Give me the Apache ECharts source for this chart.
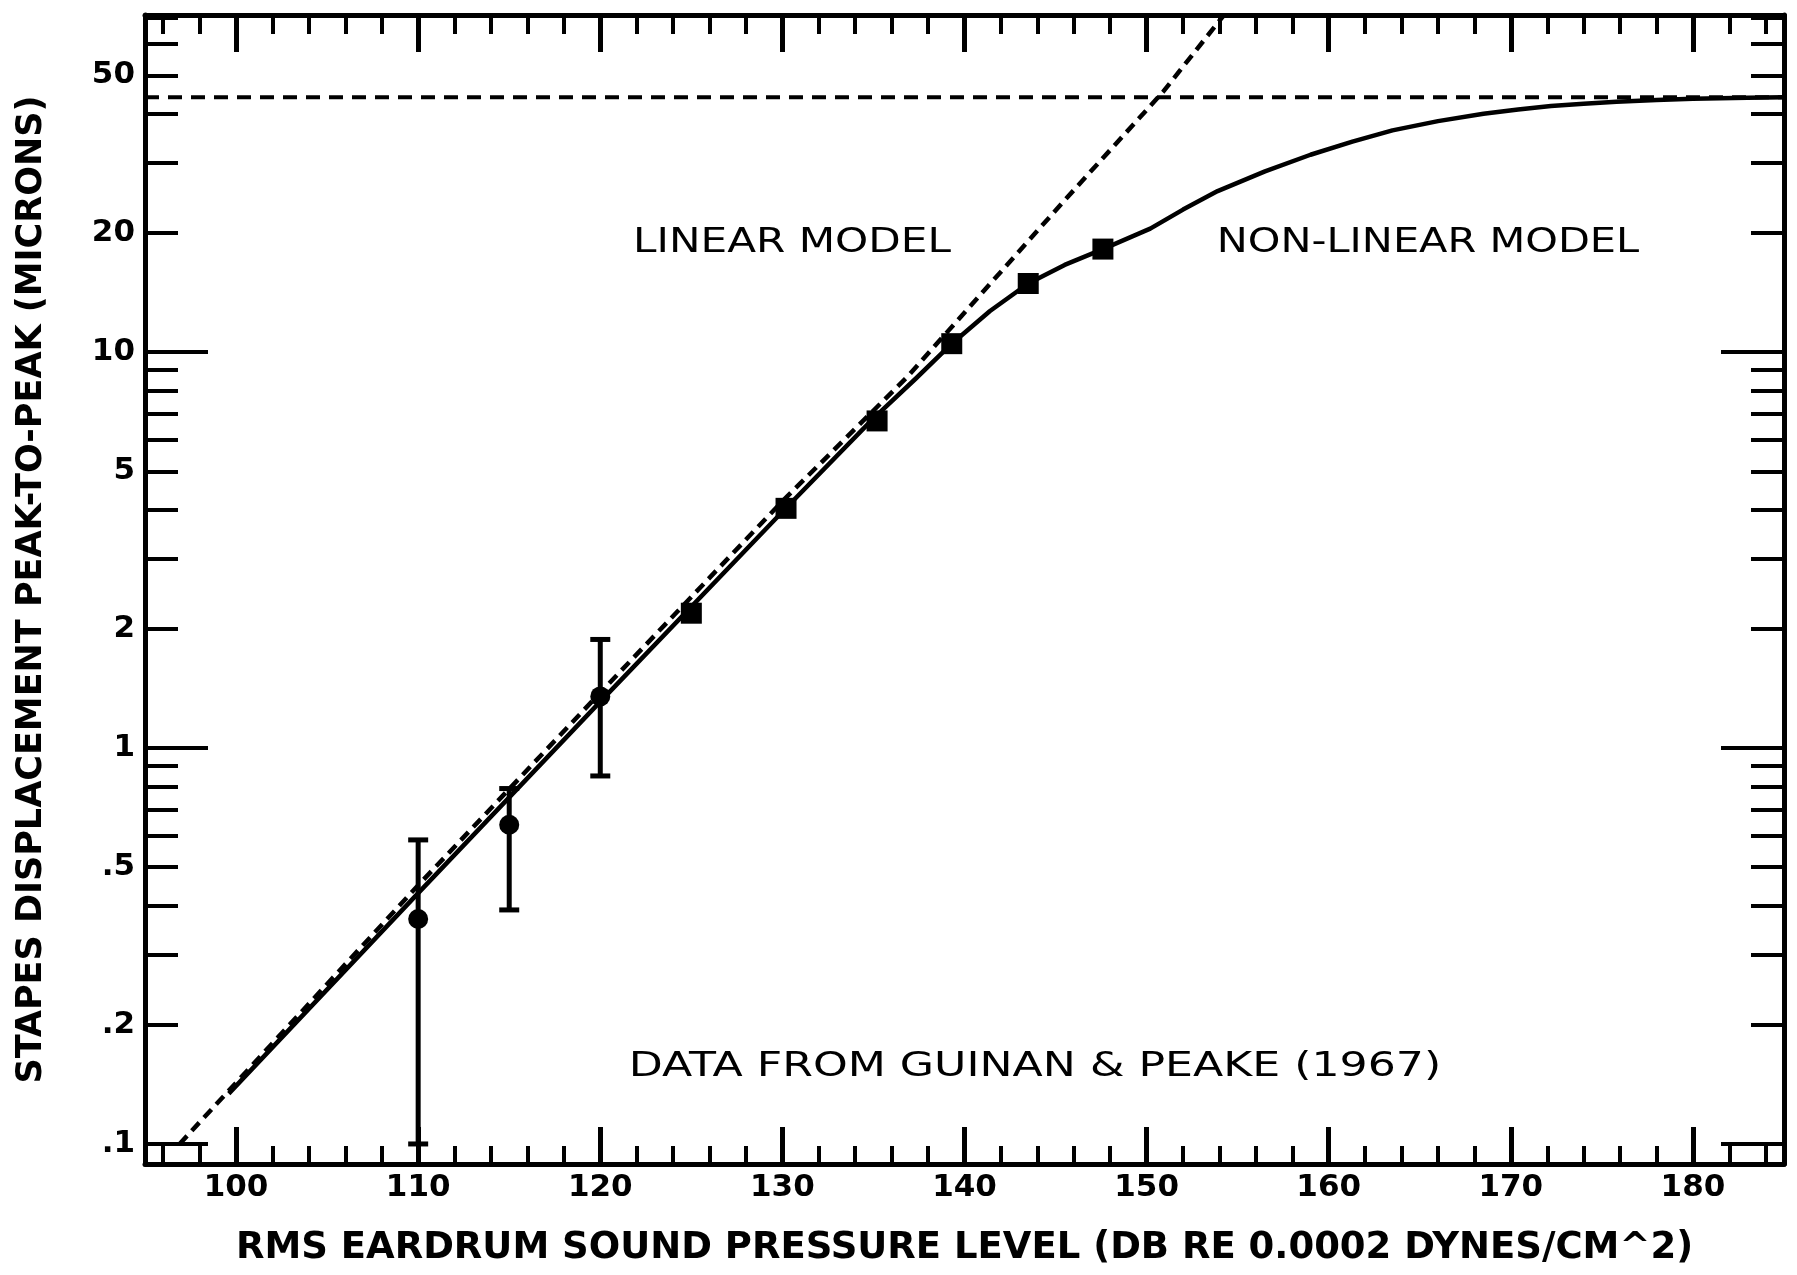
<!DOCTYPE html>
<html>
<head>
<meta charset="utf-8">
<script src="https://cdn.jsdelivr.net/npm/echarts@6/dist/echarts.min.js"></script>
<style>
html,body{margin:0;padding:0;background:#fff;}
#chart{width:1797px;height:1275px;}
</style>
</head>
<body>
<div id="chart"></div>
<script>
// ---------------- data ----------------
const xMajorTicks = [100, 110, 120, 130, 140, 150, 160, 170, 180];
const xMinorTicks = [96, 98, 102, 104, 106, 108, 112, 114, 116, 118, 122, 124, 126, 128,
  132, 134, 136, 138, 142, 144, 146, 148, 152, 154, 156, 158, 162, 164, 166, 168,
  172, 174, 176, 178, 182, 184];
const yLabelValues = [0.1, 0.2, 0.5, 1, 2, 5, 10, 20, 50];
const yLabelText = ['.1', '.2', '.5', '1', '2', '5', '10', '20', '50'];
const yDecadeTicks = [0.1, 1, 10];
const yMinorTicks = [0.2, 0.3, 0.4, 0.5, 0.6, 0.7, 0.8, 0.9, 2, 3, 4, 5, 6, 7, 8, 9,
  20, 30, 40, 50, 60, 70];

// non-linear model (solid curve)
const nonlinX = [99.6, 110, 120, 130, 135, 137.3, 139.3, 141.4, 143.5, 145.5, 147.6, 150.2,
  152, 153.9, 156.5, 159, 161.3, 163.5, 166, 168.5, 170.4, 172.2, 174, 175.8, 178, 180, 183, 185];
const nonlinY = [0.134, 0.43, 1.31, 3.95, 6.8, 8.55, 10.5, 12.7, 14.9, 16.6, 18.2, 20.5,
  22.9, 25.5, 28.6, 31.5, 34.0, 36.3, 38.3, 40.0, 41.0, 41.8, 42.4, 42.9, 43.3, 43.6, 43.9, 44.0];

// linear model (oblique dashed line)
const linX = [96.9, 110, 120, 130, 136.85, 145.4, 150.9, 154.25];
const linY = [0.1, 0.45, 1.38, 4.2, 8.65, 23.9, 45.4, 71];

// saturation level (horizontal dashed line)
const satX = [95, 185];
const satY = [44, 44];

// data with error bars (Guinan & Peake 1967)
const errX = [110, 115, 120];
const errMean = [0.37, 0.64, 1.35];
const errLow = [0.1, 0.39, 0.85];
const errHigh = [0.586, 0.79, 1.88];

// data without error bars (squares)
const sqX = [125, 130.2, 135.2, 139.3, 143.5, 147.6];
const sqY = [2.19, 4.03, 6.7, 10.5, 14.9, 18.2];

// ---------------- chart ----------------
const FONT = 'DejaVu Sans';
const zip = (a, b) => a.map((v, i) => [v, b[i]]);

const baseX = {
  type: 'value', min: 95, max: 185, gridIndex: 0,
  splitLine: { show: false },
  axisLine: { show: false },
  axisLabel: { show: false },
  axisTick: { show: false }
};
const baseY = {
  type: 'log', logBase: 10, min: 0.089, max: 71, gridIndex: 0,
  splitLine: { show: false },
  axisLine: { show: false },
  axisLabel: { show: false },
  axisTick: { show: false }
};
const frameLine = { show: true, onZero: false, lineStyle: { color: '#000', width: 5 } };

const option = {
  animation: false,
  backgroundColor: '#fff',
  grid: { left: 145, right: 13, top: 15, bottom: 111, containLabel: false },
  xAxis: [
    Object.assign({}, baseX, {
      position: 'bottom',
      axisLine: frameLine,
      axisTick: { show: true, inside: true, length: 37, customValues: xMajorTicks,
        lineStyle: { color: '#000', width: 5 } },
      axisLabel: { show: true, customValues: xMajorTicks, margin: 8,
        fontFamily: FONT, fontWeight: 'bold', fontSize: 31, color: '#000' },
      name: 'RMS EARDRUM SOUND PRESSURE LEVEL (DB RE 0.0002 DYNES/CM^2)',
      nameLocation: 'middle', nameGap: 66,
      nameTextStyle: { fontFamily: FONT, fontWeight: 'bold', fontSize: 37, color: '#000' }
    }),
    Object.assign({}, baseX, {
      position: 'bottom',
      axisTick: { show: true, inside: true, length: 18, customValues: xMinorTicks,
        lineStyle: { color: '#000', width: 4 } }
    }),
    Object.assign({}, baseX, {
      position: 'top',
      axisLine: frameLine,
      axisTick: { show: true, inside: true, length: 37, customValues: xMajorTicks,
        lineStyle: { color: '#000', width: 5 } }
    }),
    Object.assign({}, baseX, {
      position: 'top',
      axisTick: { show: true, inside: true, length: 19, customValues: xMinorTicks,
        lineStyle: { color: '#000', width: 4 } }
    })
  ],
  yAxis: [
    Object.assign({}, baseY, {
      position: 'left',
      axisLine: frameLine,
      axisTick: { show: true, inside: true, length: 63, customValues: yDecadeTicks,
        lineStyle: { color: '#000', width: 4 } },
      axisLabel: { show: true, customValues: yLabelValues, margin: 10,
        fontFamily: FONT, fontWeight: 'bold', fontSize: 31, color: '#000',
        formatter: function (v) {
          const i = yLabelValues.findIndex(t => Math.abs(t - v) / t < 1e-6);
          return i >= 0 ? yLabelText[i] : '';
        } },
      name: 'STAPES DISPLACEMENT PEAK-TO-PEAK (MICRONS)',
      nameLocation: 'middle', nameGap: 96,
      nameTextStyle: { fontFamily: FONT, fontWeight: 'bold', fontSize: 35, color: '#000' }
    }),
    Object.assign({}, baseY, {
      position: 'left',
      axisTick: { show: true, inside: true, length: 33, customValues: yMinorTicks,
        lineStyle: { color: '#000', width: 4 } }
    }),
    Object.assign({}, baseY, {
      position: 'right',
      axisLine: frameLine,
      axisTick: { show: true, inside: true, length: 63, customValues: yDecadeTicks,
        lineStyle: { color: '#000', width: 4 } }
    }),
    Object.assign({}, baseY, {
      position: 'right',
      axisTick: { show: true, inside: true, length: 33, customValues: yMinorTicks,
        lineStyle: { color: '#000', width: 4 } }
    })
  ],
  series: [
    {
      name: 'Saturation', type: 'line', xAxisIndex: 0, yAxisIndex: 0,
      data: zip(satX, satY), showSymbol: false, symbol: 'none',
      lineStyle: { color: '#000', width: 4, type: [14, 9] }
    },
    {
      name: 'Linear model', type: 'line', xAxisIndex: 0, yAxisIndex: 0,
      data: zip(linX, linY), showSymbol: false, symbol: 'none',
      lineStyle: { color: '#000', width: 4.5, type: [11, 7] }
    },
    {
      name: 'Non-linear model', type: 'line', xAxisIndex: 0, yAxisIndex: 0,
      data: zip(nonlinX, nonlinY), showSymbol: false, symbol: 'none',
      smooth: false,
      lineStyle: { color: '#000', width: 4.5, join: 'round' }
    },
    {
      name: 'Error bars', type: 'custom', xAxisIndex: 0, yAxisIndex: 0,
      data: errX.map((x, i) => [x, errLow[i], errHigh[i]]),
      encode: { x: 0, y: [1, 2] },
      renderItem: function (params, api) {
        const x = api.value(0);
        const pLo = api.coord([x, api.value(1)]);
        const pHi = api.coord([x, api.value(2)]);
        const hw = 10;
        const st = { stroke: '#000', lineWidth: 5, fill: null };
        return {
          type: 'group',
          children: [
            { type: 'line', shape: { x1: pLo[0], y1: pLo[1], x2: pHi[0], y2: pHi[1] }, style: st },
            { type: 'line', shape: { x1: pLo[0] - hw, y1: pLo[1], x2: pLo[0] + hw, y2: pLo[1] }, style: st },
            { type: 'line', shape: { x1: pHi[0] - hw, y1: pHi[1], x2: pHi[0] + hw, y2: pHi[1] }, style: st }
          ]
        };
      }
    },
    {
      name: 'Guinan & Peake (means)', type: 'scatter', xAxisIndex: 0, yAxisIndex: 0,
      data: zip(errX, errMean), symbol: 'circle', symbolSize: 20,
      itemStyle: { color: '#000', opacity: 1 }
    },
    {
      name: 'Guinan & Peake', type: 'scatter', xAxisIndex: 0, yAxisIndex: 0,
      data: zip(sqX, sqY), symbol: 'rect', symbolSize: 21,
      itemStyle: { color: '#000', opacity: 1 }
    }
  ],
  graphic: [
    { type: 'text', x: 792, y: 243, scaleX: 1.24, z: 100,
      style: { text: 'LINEAR MODEL', font: 'normal 34px "DejaVu Sans"', fill: '#000',
        align: 'center', verticalAlign: 'middle', textAlign: 'center', textVerticalAlign: 'middle' } },
    { type: 'text', x: 1428, y: 243, scaleX: 1.22, z: 100,
      style: { text: 'NON-LINEAR MODEL', font: 'normal 34px "DejaVu Sans"', fill: '#000',
        align: 'center', verticalAlign: 'middle', textAlign: 'center', textVerticalAlign: 'middle' } },
    { type: 'text', x: 1035, y: 1067, scaleX: 1.3, z: 100,
      style: { text: 'DATA FROM GUINAN & PEAKE (1967)', font: 'normal 34px "DejaVu Sans"', fill: '#000',
        align: 'center', verticalAlign: 'middle', textAlign: 'center', textVerticalAlign: 'middle' } }
  ]
};

const chart = echarts.init(document.getElementById('chart'), null, { renderer: 'canvas' });
chart.setOption(option);
</script>
</body>
</html>
